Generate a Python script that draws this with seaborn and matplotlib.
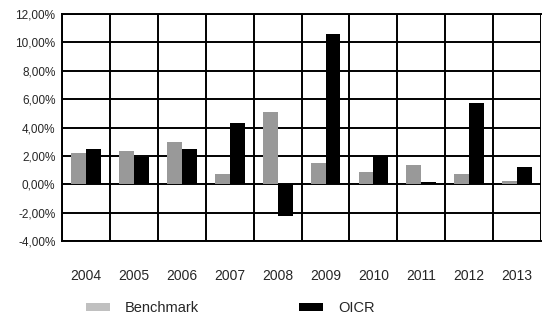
import pandas as pd
import numpy as np
import matplotlib.pyplot as plt
import seaborn as sns
from matplotlib.ticker import FuncFormatter, MultipleLocator
from matplotlib.patches import Patch

years = ['2004', '2005', '2006', '2007', '2008', '2009', '2010', '2011', '2012', '2013']
benchmark = [2.2, 2.35, 3.0, 0.7, 5.1, 1.5, 0.85, 1.35, 0.7, 0.2]
oicr = [2.5, 1.9, 2.5, 4.3, -2.25, 10.6, 2.0, 0.15, 5.75, 1.2]

df = pd.DataFrame({
    'year': years * 2,
    'value': benchmark + oicr,
    'series': ['Benchmark'] * len(years) + ['OICR'] * len(years),
})

sns.set_style('white')
plt.rcParams['font.family'] = ['Liberation Sans', 'DejaVu Sans']

fig = plt.figure(figsize=(5.42, 3.2), dpi=100)
ax = fig.add_axes([0.115, 0.247, 0.883, 0.709])

colors = {'Benchmark': '#999999', 'OICR': '#000000'}
sns.barplot(data=df, x='year', y='value', hue='series', palette=colors,
            width=0.62, saturation=1, linewidth=0, ax=ax, legend=False)

ax.set_ylim(-4, 12)
ax.set_xlim(-0.5, 9.5)
ax.yaxis.set_major_locator(MultipleLocator(2))
ax.yaxis.set_major_formatter(FuncFormatter(lambda v, p: f'{v:.2f}%'.replace('.', ',')))
ax.set_xticks(np.arange(-0.5, 10, 1), minor=True)
ax.grid(True, which='major', axis='y', color='black', linewidth=1.4)
ax.grid(True, which='minor', axis='x', color='black', linewidth=1.4)
ax.grid(False, which='major', axis='x')
ax.set_axisbelow(True)
for side in ['left', 'top', 'bottom']:
    ax.spines[side].set_visible(True)
    ax.spines[side].set_color('black')
    ax.spines[side].set_linewidth(1.4)
ax.spines['right'].set_visible(False)

ax.tick_params(axis='y', labelsize=8.5, length=3, width=1, color='black', pad=2)
ax.tick_params(axis='x', which='both', length=0, labelsize=10, pad=20)
ax.tick_params(axis='x', which='minor', labelbottom=False)
ax.set_xlabel('')
ax.set_ylabel('')

handles = [Patch(facecolor='#c0c0c0', edgecolor='none', label='Benchmark'),
           Patch(facecolor='#000000', edgecolor='none', label='OICR')]
fig.legend(handles=handles, loc='center', bbox_to_anchor=(0.425, 0.038), ncol=2,
           frameon=False, fontsize=10.5, handlelength=1.65, handleheight=0.5,
           columnspacing=6.9, handletextpad=1.0)

fig.savefig('out.png', dpi=100)
